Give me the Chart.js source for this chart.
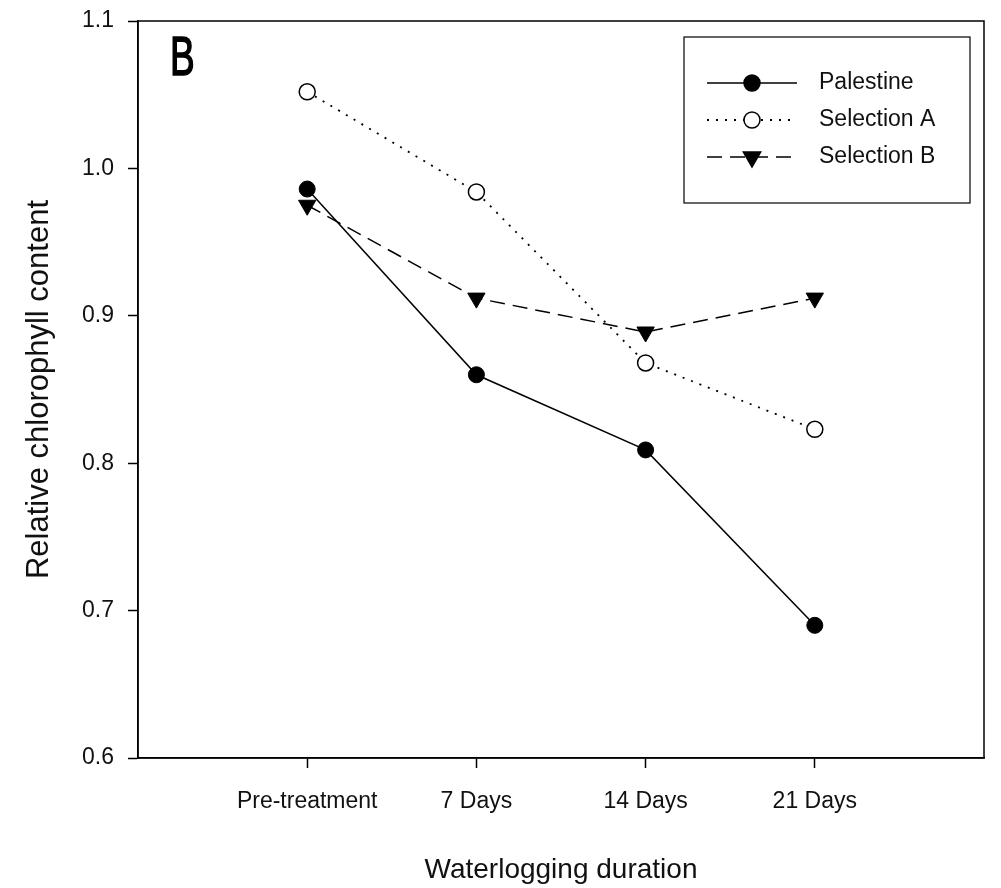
<!DOCTYPE html>
<html>
<head>
<meta charset="utf-8">
<title>Relative chlorophyll content</title>
<script src="https://cdn.jsdelivr.net/npm/chart.js@4.4.1/dist/chart.umd.min.js"></script>
<style>
  body { margin: 0; background: #fff; }
  canvas { display: block; }
</style>
</head>
<body>
<canvas id="chlChart" width="1001" height="888"></canvas>
<script>
// data
const categories = ['Pre-treatment', '7 Days', '14 Days', '21 Days'];
const palestine = [0.986, 0.860, 0.809, 0.690];
const selectionA = [1.052, 0.984, 0.868, 0.823];
const selectionB = [0.975, 0.912, 0.889, 0.912];
const seriesNames = ['Palestine', 'Selection A', 'Selection B'];

const FONT = "'Liberation Sans', Arial, sans-serif";

function toPoints(values) {
  return values.map((v, i) => ({ x: i, y: v }));
}

// box round the plot, panel letter and legend
const framePlugin = {
  id: 'frame',
  afterDraw: (chart) => {
    const ctx = chart.ctx;
    const area = chart.chartArea;
    ctx.save();
    ctx.strokeStyle = '#000';
    ctx.lineWidth = 1.5;
    ctx.strokeRect(area.left, area.top, area.right - area.left, area.bottom - area.top);

    // panel letter
    ctx.save();
    ctx.translate(area.left + 32, area.top + 54);
    ctx.scale(0.66, 1);
    ctx.fillStyle = '#000';
    ctx.strokeStyle = '#000';
    ctx.lineWidth = 1.6;
    ctx.font = '56px ' + FONT;
    ctx.textBaseline = 'alphabetic';
    ctx.fillText('B', 0, 0);
    ctx.strokeText('B', 0, 0);
    ctx.restore();

    // legend
    const boxX = area.right - 300;
    const boxY = area.top + 16;
    ctx.fillStyle = '#fff';
    ctx.fillRect(boxX, boxY, 286, 166);
    ctx.lineWidth = 1.2;
    ctx.strokeRect(boxX, boxY, 286, 166);

    chart.data.datasets.forEach((ds, i) => {
      const y = boxY + 46 + i * 37;
      const x0 = boxX + 23, x1 = boxX + 113, xm = boxX + 68;
      ctx.setLineDash(ds.borderDash || []);
      ctx.lineWidth = ds.borderWidth;
      ctx.strokeStyle = '#000';
      ctx.beginPath();
      ctx.moveTo(x0, y);
      ctx.lineTo(x1, y);
      ctx.stroke();
      ctx.setLineDash([]);

      ctx.beginPath();
      if (ds.pointStyle === 'triangle') {
        const r = ds.pointRadius;
        ctx.moveTo(xm - r * 0.866, y - r / 2);
        ctx.lineTo(xm + r * 0.866, y - r / 2);
        ctx.lineTo(xm, y + r);
        ctx.closePath();
      } else {
        ctx.arc(xm, y, ds.pointRadius, 0, Math.PI * 2);
      }
      ctx.fillStyle = ds.pointBackgroundColor;
      ctx.fill();
      ctx.lineWidth = 1.5;
      ctx.stroke();

      ctx.fillStyle = '#111';
      ctx.font = '23px ' + FONT;
      ctx.textBaseline = 'middle';
      ctx.textAlign = 'left';
      ctx.fillText(ds.label, boxX + 135, y);
    });
    ctx.restore();
  }
};

const chl_data = {
  datasets: [
    {
      label: seriesNames[0],
      data: toPoints(palestine),
      borderColor: '#000',
      borderWidth: 1.5,
      pointStyle: 'circle',
      pointRadius: 8,
      pointBackgroundColor: '#000',
      pointBorderColor: '#000',
      pointBorderWidth: 1
    },
    {
      label: seriesNames[1],
      data: toPoints(selectionA),
      borderColor: '#000',
      borderWidth: 1.8,
      borderDash: [2, 7],
      pointStyle: 'circle',
      pointRadius: 8,
      pointBackgroundColor: '#fff',
      pointBorderColor: '#000',
      pointBorderWidth: 1.5
    },
    {
      label: seriesNames[2],
      data: toPoints(selectionB),
      borderColor: '#000',
      borderWidth: 1.5,
      borderDash: [15, 8],
      pointStyle: 'triangle',
      pointRotation: 180,
      pointRadius: 10,
      pointBackgroundColor: '#000',
      pointBorderColor: '#000',
      pointBorderWidth: 1
    }
  ]
};

const chl_config = {
  type: 'line',
  data: chl_data,
  options: {
    responsive: false,
    animation: false,
    layout: { padding: { top: 21, right: 17, bottom: 0, left: 0 } },
    plugins: {
      legend: { display: false },
      tooltip: { enabled: false }
    },
    scales: {
      x: {
        type: 'linear',
        min: -1,
        max: 4,
        afterFit: (scale) => {
          scale.height = 130;
          scale.paddingLeft = 0;
          scale.paddingRight = 0;
        },
        border: { display: true, color: '#000', width: 1.5 },
        grid: {
          drawOnChartArea: false,
          drawTicks: true,
          tickLength: 10,
          tickWidth: 1.5,
          color: (c) => (c.tick && c.tick.value >= 0 && c.tick.value < categories.length) ? '#000' : 'rgba(0,0,0,0)'
        },
        ticks: {
          stepSize: 1,
          autoSkip: false,
          maxRotation: 0,
          padding: 20,
          color: '#111',
          font: { family: FONT, size: 23 },
          callback: (value) => categories[value] !== undefined ? categories[value] : ''
        },
        title: {
          display: true,
          text: 'Waterlogging duration',
          color: '#111',
          font: { family: FONT, size: 28 },
          padding: { top: 0, bottom: 1 }
        }
      },
      y: {
        min: 0.6,
        max: 1.1,
        afterFit: (scale) => {
          scale.width = 138;
          scale.paddingTop = 0;
          scale.paddingBottom = 0;
        },
        border: { display: true, color: '#000', width: 1.5 },
        grid: {
          drawOnChartArea: false,
          drawTicks: true,
          tickLength: 10,
          tickWidth: 1.5,
          color: '#000'
        },
        ticks: {
          stepSize: 0.1,
          padding: 14,
          color: '#111',
          font: { family: FONT, size: 23 },
          callback: (value) => value.toFixed(1)
        },
        title: {
          display: true,
          text: 'Relative chlorophyll content',
          color: '#111',
          font: { family: FONT, size: 31 },
          padding: { top: 21, bottom: 0 }
        }
      }
    }
  },
  plugins: [framePlugin]
};

const myChlChart = new Chart(
  document.getElementById('chlChart'),
  chl_config
);
</script>
</body>
</html>
